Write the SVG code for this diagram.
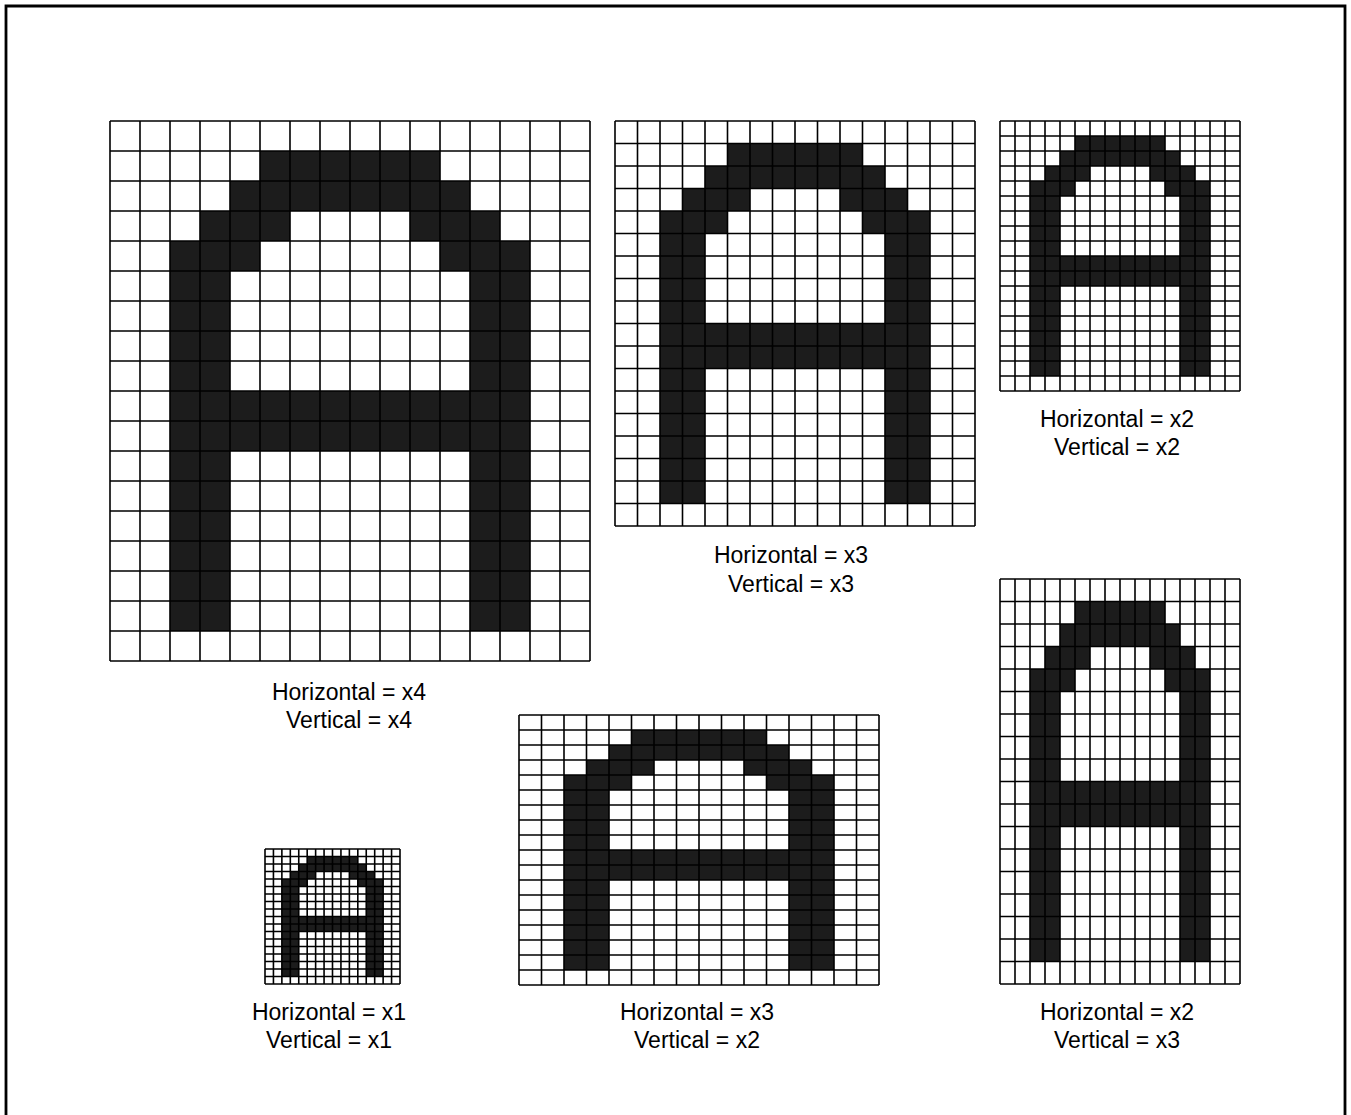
<svg xmlns="http://www.w3.org/2000/svg" xmlns:xlink="http://www.w3.org/1999/xlink" width="1351" height="1115" viewBox="0 0 1351 1115">
<style>
.glyph{fill:#1c1c1c;stroke:none}
.grid{fill:none;stroke:#000;stroke-width:1.6;vector-effect:non-scaling-stroke}
.bg{fill:#fff}
.lbl{font-family:"Liberation Sans",Arial,sans-serif;font-size:23px;fill:#000;text-anchor:middle}
.frame{fill:none;stroke:#000;stroke-width:2.8}
</style>
<defs>
<path id="glyph" class="glyph" d="M5,1h6v1h-6z M4,2h8v1h-8z M3,3h3v1h-3z M10,3h3v1h-3z M2,4h3v1h-3z M11,4h3v1h-3z M2,5h2v12h-2z M12,5h2v12h-2z M4,9h8v2h-8z"/>
<path id="gridlines" class="grid" d="M0,0V18M1,0V18M2,0V18M3,0V18M4,0V18M5,0V18M6,0V18M7,0V18M8,0V18M9,0V18M10,0V18M11,0V18M12,0V18M13,0V18M14,0V18M15,0V18M16,0V18M0,0H16M0,1H16M0,2H16M0,3H16M0,4H16M0,5H16M0,6H16M0,7H16M0,8H16M0,9H16M0,10H16M0,11H16M0,12H16M0,13H16M0,14H16M0,15H16M0,16H16M0,17H16M0,18H16"/>
<g id="cellgrid">
<rect class="bg" x="0" y="0" width="16" height="18"/>
<use xlink:href="#glyph" href="#glyph"/>
<use xlink:href="#gridlines" href="#gridlines"/>
</g>
</defs>
<rect x="0" y="0" width="1351" height="1115" fill="#fff"/>
<path class="frame" d="M6,1120V6H1345V1120"/>
<g id="connectors"/>
<g id="node-x4">
<use xlink:href="#cellgrid" href="#cellgrid" transform="translate(110,121) scale(30)"/>
<text class="lbl" x="349" y="700">Horizontal = x4</text>
<text class="lbl" x="349" y="728">Vertical = x4</text>
</g>
<g id="node-x3x3">
<use xlink:href="#cellgrid" href="#cellgrid" transform="translate(615,121) scale(22.5)"/>
<text class="lbl" x="791" y="563">Horizontal = x3</text>
<text class="lbl" x="791" y="592">Vertical = x3</text>
</g>
<g id="node-x2x2">
<use xlink:href="#cellgrid" href="#cellgrid" transform="translate(1000,121) scale(15)"/>
<text class="lbl" x="1117" y="427">Horizontal = x2</text>
<text class="lbl" x="1117" y="455">Vertical = x2</text>
</g>
<g id="node-x1x1">
<use xlink:href="#cellgrid" href="#cellgrid" transform="translate(265,849) scale(8.4375,7.5)"/>
<text class="lbl" x="329" y="1020">Horizontal = x1</text>
<text class="lbl" x="329" y="1048">Vertical = x1</text>
</g>
<g id="node-x3x2">
<use xlink:href="#cellgrid" href="#cellgrid" transform="translate(519,715) scale(22.5,15)"/>
<text class="lbl" x="697" y="1020">Horizontal = x3</text>
<text class="lbl" x="697" y="1048">Vertical = x2</text>
</g>
<g id="node-x2x3">
<use xlink:href="#cellgrid" href="#cellgrid" transform="translate(1000,579) scale(15,22.5)"/>
<text class="lbl" x="1117" y="1020">Horizontal = x2</text>
<text class="lbl" x="1117" y="1048">Vertical = x3</text>
</g>
</svg>
